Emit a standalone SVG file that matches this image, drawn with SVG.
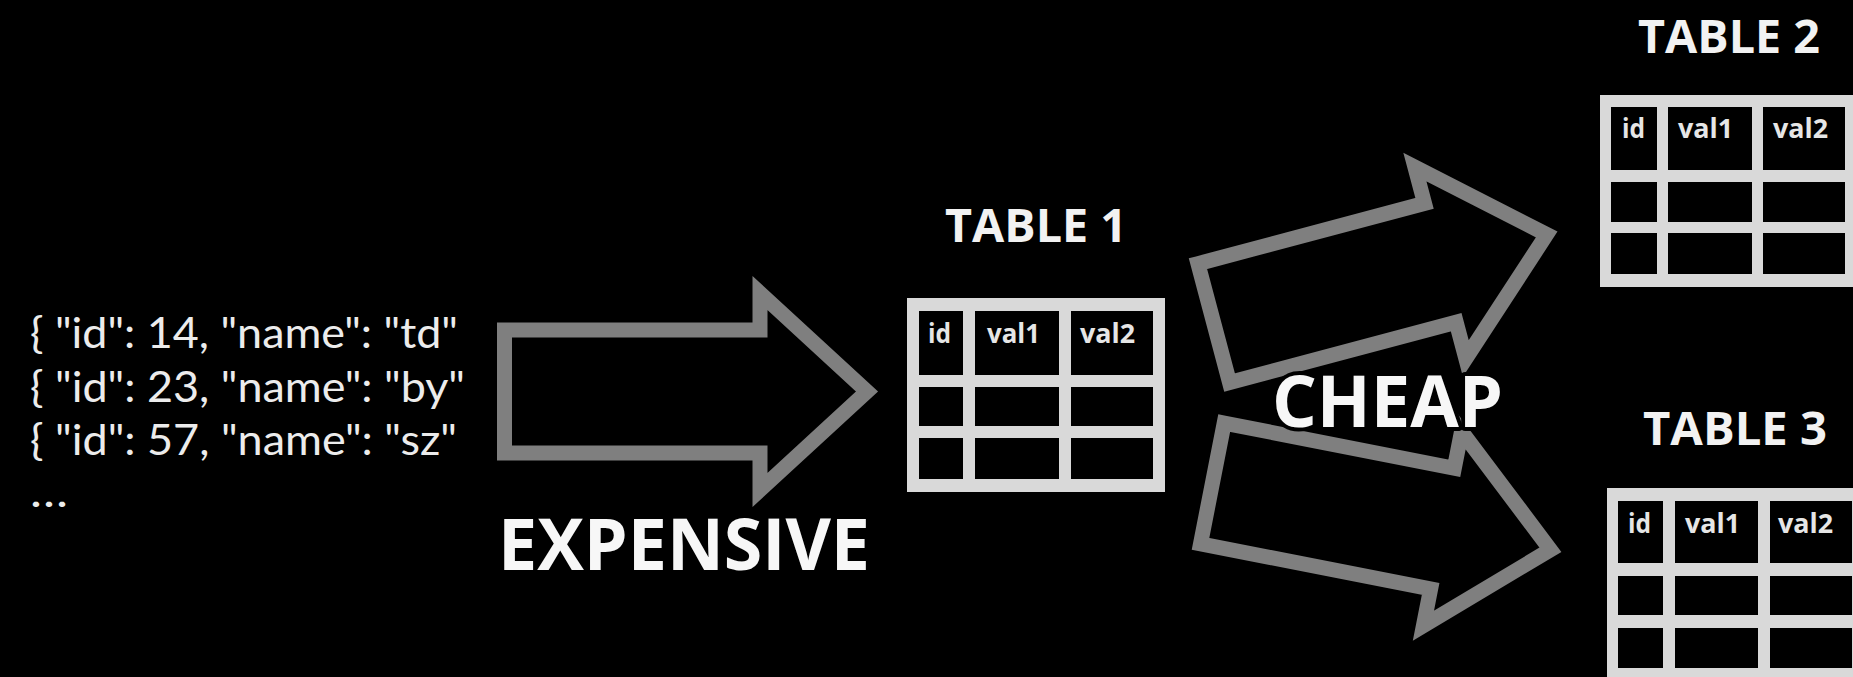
<svg xmlns="http://www.w3.org/2000/svg" width="1853" height="677" viewBox="0 0 1853 677">
<style>
.bg{fill:#000}
.json{font-family:Lato,"Open Sans","Liberation Sans",sans-serif;font-size:42px;fill:#ececec}
.title{font-family:"Open Sans","Noto Sans","Liberation Sans",sans-serif;font-weight:700;font-size:47px;fill:#f2f2f2}
.big{font-family:"Open Sans","Noto Sans","Liberation Sans",sans-serif;font-weight:700;font-size:72px;fill:#f7f7f7}
.halo{stroke:#000;stroke-width:8px;paint-order:stroke;stroke-linejoin:round}
.grid{fill:#d9d9d9}
.cell{fill:#000}
.hdr{font-family:"Open Sans","Noto Sans","Liberation Sans",sans-serif;font-weight:700;font-size:26px;fill:#e6e6e6}
.arrow{fill:none;stroke:#7f7f7f;stroke-width:15;stroke-linejoin:miter;stroke-miterlimit:10}
</style>
<defs>
<polygon id="cheapArrow" points="7.5,-61.5 242,-61.5 242,-99 352,0 242,99 242,61.5 7.5,61.5"/>
</defs>
<rect class="bg" x="0" y="0" width="1853" height="677"/>

<g id="json-records">
<text class="json" x="30" y="348" textLength="428" lengthAdjust="spacingAndGlyphs">{ "id": 14, "name": "td"</text>
<text class="json" x="30" y="402" textLength="435" lengthAdjust="spacingAndGlyphs">{ "id": 23, "name": "by"</text>
<text class="json" x="30" y="455" textLength="427" lengthAdjust="spacingAndGlyphs">{ "id": 57, "name": "sz"</text>
<text class="json" x="30" y="507" textLength="38" lengthAdjust="spacingAndGlyphs">…</text>
</g>

<g id="connectors">
<polygon class="arrow" points="504.5,330 760,330 760,293 867,391.5 760,490 760,453 504.5,453"/>
<use class="arrow" href="#cheapArrow" transform="translate(1206.5,325) rotate(-14.9)"/>
<use class="arrow" href="#cheapArrow" transform="translate(1205,482) rotate(11.1)"/>
<text class="big" x="498" y="570" textLength="372" lengthAdjust="spacingAndGlyphs">EXPENSIVE</text>
<text class="big halo" x="1272" y="427" textLength="231" lengthAdjust="spacingAndGlyphs">CHEAP</text>
</g>

<g id="table1">
<text class="title" x="945" y="242" textLength="182" lengthAdjust="spacingAndGlyphs">TABLE 1</text>
<rect class="grid" x="907" y="298" width="258" height="194"/>
<rect class="cell" x="919" y="311" width="44" height="64"/>
<rect class="cell" x="975" y="311" width="84" height="64"/>
<rect class="cell" x="1071" y="311" width="82" height="64"/>
<rect class="cell" x="919" y="387" width="44" height="39"/>
<rect class="cell" x="975" y="387" width="84" height="39"/>
<rect class="cell" x="1071" y="387" width="82" height="39"/>
<rect class="cell" x="919" y="438" width="44" height="41"/>
<rect class="cell" x="975" y="438" width="84" height="41"/>
<rect class="cell" x="1071" y="438" width="82" height="41"/>
<text class="hdr" x="928" y="343" textLength="23" lengthAdjust="spacingAndGlyphs">id</text>
<text class="hdr" x="987" y="343" textLength="53" lengthAdjust="spacingAndGlyphs">val1</text>
<text class="hdr" x="1080" y="343" textLength="55" lengthAdjust="spacingAndGlyphs">val2</text>
</g>

<g id="table2">
<text class="title" x="1638" y="53" textLength="182" lengthAdjust="spacingAndGlyphs">TABLE 2</text>
<rect class="grid" x="1600" y="95" width="258" height="192"/>
<rect class="cell" x="1611" y="107" width="46" height="63"/>
<rect class="cell" x="1668" y="107" width="84" height="63"/>
<rect class="cell" x="1763" y="107" width="82" height="63"/>
<rect class="cell" x="1611" y="182" width="46" height="40"/>
<rect class="cell" x="1668" y="182" width="84" height="40"/>
<rect class="cell" x="1763" y="182" width="82" height="40"/>
<rect class="cell" x="1611" y="233" width="46" height="41"/>
<rect class="cell" x="1668" y="233" width="84" height="41"/>
<rect class="cell" x="1763" y="233" width="82" height="41"/>
<text class="hdr" x="1622" y="138" textLength="23" lengthAdjust="spacingAndGlyphs">id</text>
<text class="hdr" x="1678" y="138" textLength="55" lengthAdjust="spacingAndGlyphs">val1</text>
<text class="hdr" x="1773" y="138" textLength="55" lengthAdjust="spacingAndGlyphs">val2</text>
</g>

<g id="table3">
<text class="title" x="1643" y="445" textLength="184" lengthAdjust="spacingAndGlyphs">TABLE 3</text>
<rect class="grid" x="1607" y="488" width="258" height="192"/>
<rect class="cell" x="1618" y="501" width="45" height="62"/>
<rect class="cell" x="1675" y="501" width="83" height="62"/>
<rect class="cell" x="1770" y="501" width="82" height="62"/>
<rect class="cell" x="1618" y="576" width="45" height="39"/>
<rect class="cell" x="1675" y="576" width="83" height="39"/>
<rect class="cell" x="1770" y="576" width="82" height="39"/>
<rect class="cell" x="1618" y="628" width="45" height="40"/>
<rect class="cell" x="1675" y="628" width="83" height="40"/>
<rect class="cell" x="1770" y="628" width="82" height="40"/>
<text class="hdr" x="1628" y="533" textLength="23" lengthAdjust="spacingAndGlyphs">id</text>
<text class="hdr" x="1685" y="533" textLength="55" lengthAdjust="spacingAndGlyphs">val1</text>
<text class="hdr" x="1778" y="533" textLength="55" lengthAdjust="spacingAndGlyphs">val2</text>
</g>
</svg>
